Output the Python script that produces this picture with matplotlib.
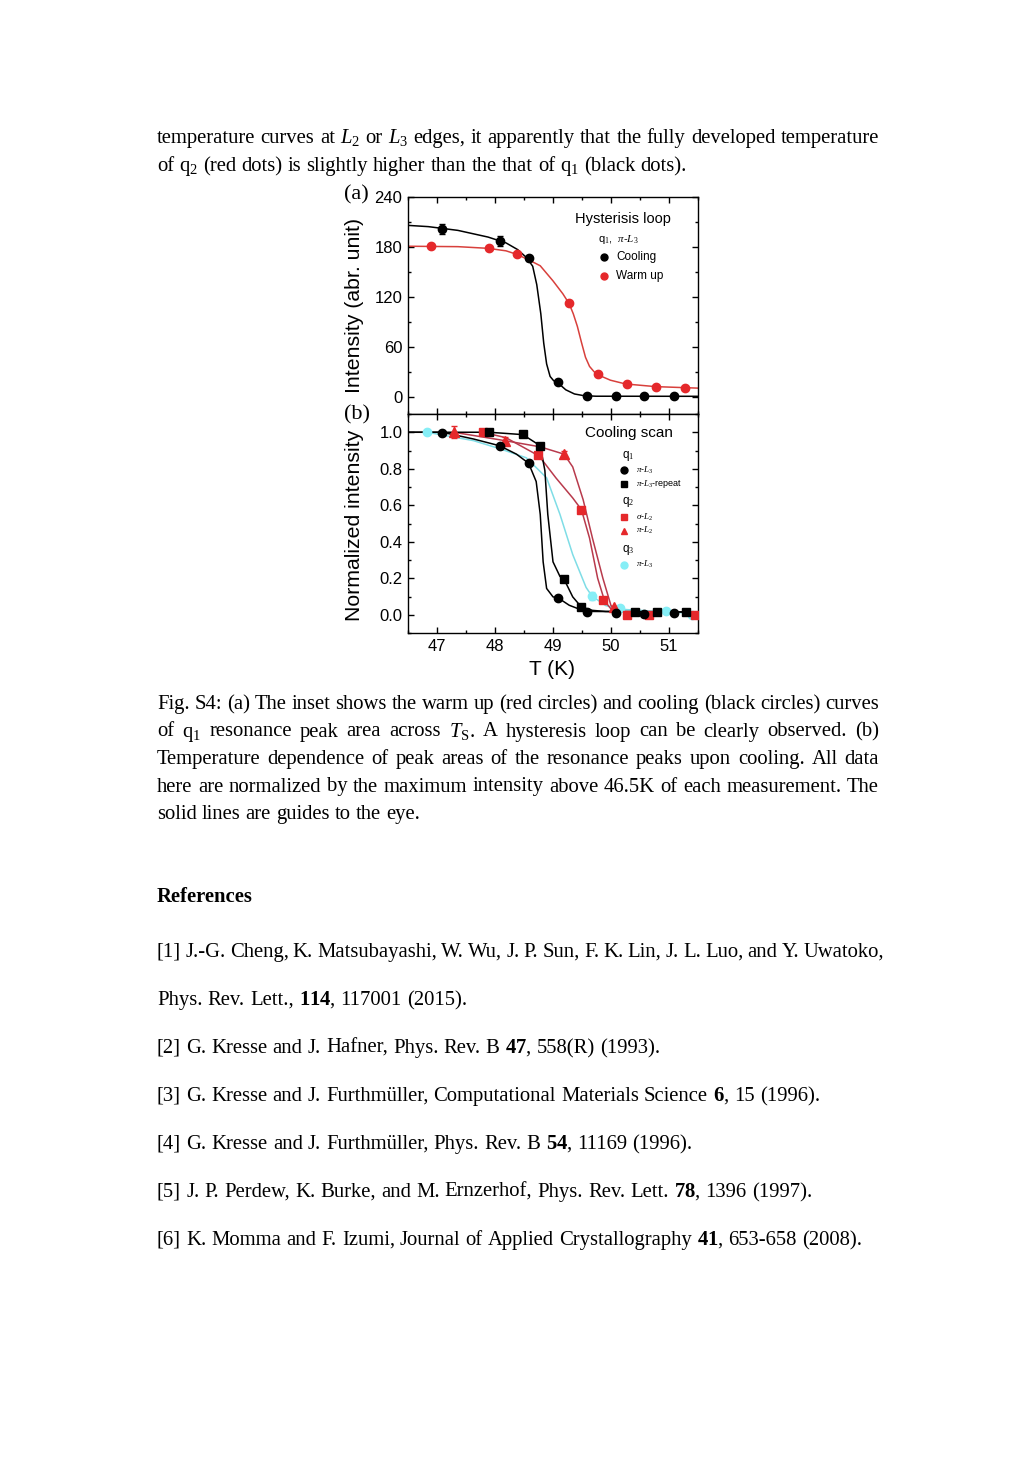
import numpy as np
import matplotlib.pyplot as plt
from matplotlib.ticker import MultipleLocator, FormatStrFormatter

W, H = 1036, 1465

plt.rcParams['font.family'] = 'Liberation Sans'
plt.rcParams['mathtext.fontset'] = 'custom'
plt.rcParams['mathtext.rm'] = 'Liberation Serif'
plt.rcParams['mathtext.it'] = 'Liberation Serif:italic'
plt.rcParams['mathtext.bf'] = 'Liberation Serif:bold'

# ---- data, panel (a): hysteresis loop, q1 pi-L3 ----
T_cool = [47.08, 48.08, 48.58, 49.09, 49.58, 50.08, 50.57, 51.08]
I_cool = [201.8, 187.0, 166.8, 18.9, 2.0, 1.6, 1.2, 1.2]
E_cool = [6, 6, 3, 2, 1, 1, 1, 1]
T_warm = [46.89, 47.90, 48.38, 49.28, 49.77, 50.27, 50.77, 51.27]
I_warm = [181.7, 178.5, 171.7, 112.6, 27.7, 16.1, 12.5, 11.3]

# guide-to-the-eye lines
Tg_cool = [46.5, 46.85, 47.36, 47.88, 48.19, 48.39, 48.55, 48.65, 48.72, 48.79, 48.84,
           48.89, 48.95, 49.01, 49.09, 49.22, 49.37, 49.53, 49.74, 51.5]
Ig_cool = [206, 204.5, 200, 192, 185, 177, 167, 157, 135, 100, 65,
           40, 25, 20, 17, 9, 4, 2, 1.3, 1.2]
Tg_warm = [46.5, 47.36, 47.88, 48.19, 48.39, 48.60, 48.78, 49.00, 49.17, 49.28, 49.35,
           49.42, 49.49, 49.56, 49.63, 49.71, 49.77, 49.84, 49.99, 50.25, 50.77, 51.5]
Ig_warm = [181, 180.5, 178.5, 175.5, 171, 164, 157.6, 139.5, 124, 112, 100,
           85, 66, 48, 37, 30.5, 27.7, 25, 20.5, 16, 12.8, 11]

# ---- data, panel (b): cooling scan, normalized ----
T_q1_pi = [47.08, 48.08, 48.58, 49.09, 49.58, 50.08, 50.57, 51.09]
N_q1_pi = [0.996, 0.926, 0.834, 0.092, 0.015, 0.011, 0.005, 0.009]
T_q1_rep = [47.89, 48.49, 48.78, 49.19, 49.49, 50.41, 50.80, 51.29]
N_q1_rep = [1.0, 0.99, 0.926, 0.195, 0.042, 0.014, 0.014, 0.014]
T_q2_sig = [47.79, 48.74, 49.49, 49.86, 50.28, 50.66, 51.45]
N_q2_sig = [1.0, 0.875, 0.576, 0.079, -0.004, -0.004, -0.004]
T_q2_pi = [47.29, 48.17, 49.19, 50.06]
N_q2_pi = [1.0, 0.954, 0.88, 0.04]
E_q2_pi = [0.033, 0.02, 0.02, 0.01]
T_q3_pi = [46.83, 49.67, 50.15, 50.94, 51.39]
N_q3_pi = [1.0, 0.103, 0.035, 0.018, 0.0]
E_q3_pi = [0.0, 0.02, 0.0, 0.0, 0.0]

Tg_q1_pi = [46.5, 47.09, 47.63, 48.08, 48.37, 48.58, 48.71, 48.78, 48.83, 48.89,
            49.00, 49.09, 49.28, 49.46, 49.68, 51.5]
Ng_q1_pi = [1.0, 1.0, 0.963, 0.926, 0.88, 0.83, 0.73, 0.55, 0.29, 0.144,
            0.098, 0.092, 0.052, 0.03, 0.018, 0.015]
Tg_q1_rep = [46.5, 47.90, 48.48, 48.78, 48.86, 48.91, 49.00, 49.12, 49.19, 49.34,
             49.49, 49.68, 49.91, 51.5]
Ng_q1_rep = [1.0, 1.0, 0.987, 0.926, 0.79, 0.55, 0.29, 0.21, 0.195, 0.098,
             0.042, 0.024, 0.018, 0.015]
Tg_q2_sig = [47.79, 48.19, 48.76, 49.05, 49.34, 49.49, 49.63, 49.77, 49.89, 50.02]
Ng_q2_sig = [1.0, 0.97, 0.87, 0.75, 0.64, 0.576, 0.42, 0.2, 0.075, 0.024]
Tg_q2_pi = [47.29, 48.17, 48.78, 49.19, 49.34, 49.52, 49.68, 49.86, 50.00, 50.09]
Ng_q2_pi = [1.0, 0.954, 0.92, 0.88, 0.81, 0.63, 0.42, 0.2, 0.05, 0.03]
Tg_q3 = [46.83, 47.63, 48.08, 48.54, 48.89, 49.12, 49.34, 49.57, 49.67, 49.91, 50.17, 51.5]
Ng_q3 = [1.0, 0.954, 0.91, 0.86, 0.75, 0.55, 0.33, 0.15, 0.103, 0.05, 0.03, 0.006]

BLACK = 'black'
RED = '#e5282b'
RED_LINE = '#b83a4c'
CYAN = '#86eef6'
CYAN_LINE = '#7fdde6'

fig = plt.figure(figsize=(W / 100, H / 100), dpi=100)


def px(x, y):
    return x / W, 1 - y / H


axa = fig.add_axes([408 / W, 1 - 414 / H, 290 / W, 217 / H])
axb = fig.add_axes([408 / W, 1 - 633 / H, 290 / W, 219 / H], sharex=axa)

# panel (a)
axa.plot(Tg_cool, Ig_cool, color=BLACK, lw=1.1, zorder=2)
axa.plot(Tg_warm, Ig_warm, color='#d8403c', lw=1.1, zorder=2)
axa.errorbar(T_warm, I_warm, fmt='o', color=RED, ms=6, zorder=3)
axa.errorbar(T_cool, I_cool, yerr=E_cool, fmt='o', color=BLACK, ms=6,
             elinewidth=1, capsize=2.5, zorder=4)
axa.set_ylim(-20, 240)
axa.yaxis.set_major_locator(MultipleLocator(60))
axa.yaxis.set_minor_locator(MultipleLocator(30))
axa.set_ylabel('Intensity (abr. unit)', fontsize=15.3)
axa.yaxis.set_label_coords(-0.152, 0.5)
axa.tick_params(labelbottom=False)

# panel (b)
axb.plot(Tg_q3, Ng_q3, color=CYAN_LINE, lw=1.1, zorder=2)
axb.plot(Tg_q2_sig, Ng_q2_sig, color=RED_LINE, lw=1.1, zorder=2)
axb.plot(Tg_q2_pi, Ng_q2_pi, color=RED_LINE, lw=1.1, zorder=2)
axb.plot(Tg_q1_pi, Ng_q1_pi, color=BLACK, lw=1.1, zorder=2)
axb.plot(Tg_q1_rep, Ng_q1_rep, color=BLACK, lw=1.1, zorder=2)
axb.errorbar(T_q3_pi, N_q3_pi, yerr=E_q3_pi, fmt='o', color=CYAN, ms=6,
             elinewidth=1, capsize=2.5, zorder=3)
axb.errorbar(T_q2_sig, N_q2_sig, fmt='s', color=RED, ms=5.5, zorder=3)
axb.errorbar(T_q2_pi, N_q2_pi, yerr=E_q2_pi, fmt='^', color=RED, ms=6.5,
             elinewidth=1, capsize=2.5, zorder=3)
axb.errorbar(T_q1_rep, N_q1_rep, fmt='s', color=BLACK, ms=5.5, zorder=4)
axb.errorbar(T_q1_pi, N_q1_pi, fmt='o', color=BLACK, ms=6, zorder=4)
axb.set_ylim(-0.1, 1.1)
axb.set_xlim(46.5, 51.5)
axb.yaxis.set_major_locator(MultipleLocator(0.2))
axb.yaxis.set_minor_locator(MultipleLocator(0.1))
axb.yaxis.set_major_formatter(FormatStrFormatter('%.1f'))
axb.xaxis.set_major_locator(MultipleLocator(1))
axb.xaxis.set_minor_locator(MultipleLocator(0.5))
axb.set_ylabel('Normalized intensity', fontsize=15.3)
axb.yaxis.set_label_coords(-0.152, 0.49)
axb.set_xlabel('T (K)', fontsize=15)
axb.xaxis.set_label_coords(0.497, -0.124)

for ax in (axa, axb):
    for s in ax.spines.values():
        s.set_linewidth(1.0)
    ax.tick_params(which='both', direction='in', top=True, right=True,
                   labelsize=12, width=1.0, pad=4)
    ax.tick_params(which='major', length=4.5)
    ax.tick_params(which='minor', length=2.5)

# legend (a)
axa.text(0.741, 0.899, 'Hysterisis loop', transform=axa.transAxes,
         ha='center', va='center', fontsize=10.5)
axa.text(0.655, 0.806, r'q$_1$,  $\pi$-$L_3$', transform=axa.transAxes,
         ha='left', va='center', fontsize=8)
for yy, col, lab in [(0.724, BLACK, 'Cooling'), (0.636, RED, 'Warm up')]:
    axa.plot([0.676], [yy], 'o', color=col, ms=5, transform=axa.transAxes)
    axa.text(0.717, yy, lab, transform=axa.transAxes, ha='left', va='center',
             fontsize=8.5)

# legend (b)
axb.text(0.762, 0.913, 'Cooling scan', transform=axb.transAxes,
         ha='center', va='center', fontsize=11)
for yy, lab in [(0.807, 'q$_1$'), (0.596, 'q$_2$'), (0.381, 'q$_3$')]:
    axb.text(0.738, yy, lab, transform=axb.transAxes, ha='left', va='center',
             fontsize=8.5)
for yy, mk, col, lab in [(0.743, 'o', BLACK, r'$\pi$-$L_3$'),
                         (0.681, 's', BLACK, r'$\pi$-$L_3$-repeat'),
                         (0.528, 's', RED, r'$\sigma$-$L_2$'),
                         (0.468, '^', RED, r'$\pi$-$L_2$'),
                         (0.312, 'o', CYAN, r'$\pi$-$L_3$')]:
    axb.plot([0.745], [yy], mk, color=col, ms=5, transform=axb.transAxes)
    axb.text(0.786, yy, lab, transform=axb.transAxes, ha='left', va='center',
             fontsize=6.5)

fig.text(*px(356, 195), '(a)', family='Liberation Serif', fontsize=16,
         ha='center', va='center')
fig.text(*px(357, 415), '(b)', family='Liberation Serif', fontsize=16,
         ha='center', va='center')

# ---- page text ----
SERIF = 'Liberation Serif'
r = fig.canvas.get_renderer()
probe = fig.text(0, 0, '[2] G. Kresse and J. Hafner, Phys. Rev. B $\\mathbf{47}$, 558(R) (1993).',
                 family=SERIF, fontsize=14)
FS = 14 * 507 / probe.get_window_extent(r).width
probe.remove()
sp = fig.text(0, 0, 'a a', family=SERIF, fontsize=FS)
sp2 = fig.text(0, 0, 'aa', family=SERIF, fontsize=FS)
SPACE = sp.get_window_extent(r).width - sp2.get_window_extent(r).width
sp.remove()
sp2.remove()


def put_line(line, ybase, x0=157, x1=None, weight='normal'):
    words = line.split(' ')
    objs = [fig.text(0, 0, w, family=SERIF, fontsize=FS, weight=weight,
                     va='baseline', ha='left') for w in words]
    widths = [o.get_window_extent(r).width for o in objs]
    if x1 is None or len(words) < 2:
        gap = SPACE
    else:
        gap = (x1 - x0 - sum(widths)) / (len(words) - 1)
    x = x0
    for o, w in zip(objs, widths):
        o.set_position(px(x, ybase))
        x += w + gap


put_line('temperature curves at $L_2$ or $L_3$ edges, it apparently that the fully developed temperature',
         143, x1=879)
put_line('of q$_2$ (red dots) is slightly higher than the that of q$_1$ (black dots).', 171)

caption = [
    ('Fig. S4: (a) The inset shows the warm up (red circles) and cooling (black circles) curves', True),
    ('of q$_1$ resonance peak area across $T_\\mathrm{S}$. A hysteresis loop can be clearly observed. (b)', True),
    ('Temperature dependence of peak areas of the resonance peaks upon cooling. All data', True),
    ('here are normalized by the maximum intensity above 46.5K of each measurement. The', True),
    ('solid lines are guides to the eye.', False),
]
for i, (line, just) in enumerate(caption):
    put_line(line, 709 + 27.5 * i, x1=879 if just else None)

put_line('References', 902, weight='bold')

refs = [
    ('[1] J.-G. Cheng, K. Matsubayashi, W. Wu, J. P. Sun, F. K. Lin, J. L. Luo, and Y. Uwatoko,', 884),
    ('Phys. Rev. Lett., $\\mathbf{114}$, 117001 (2015).', None),
    ('[2] G. Kresse and J. Hafner, Phys. Rev. B $\\mathbf{47}$, 558(R) (1993).', None),
    ('[3] G. Kresse and J. Furthmüller, Computational Materials Science $\\mathbf{6}$, 15 (1996).', None),
    ('[4] G. Kresse and J. Furthmüller, Phys. Rev. B $\\mathbf{54}$, 11169 (1996).', None),
    ('[5] J. P. Perdew, K. Burke, and M. Ernzerhof, Phys. Rev. Lett. $\\mathbf{78}$, 1396 (1997).', None),
    ('[6] K. Momma and F. Izumi, Journal of Applied Crystallography $\\mathbf{41}$, 653-658 (2008).', None),
]
for i, (line, x1) in enumerate(refs):
    put_line(line, 957 + 48 * i, x1=x1)

fig.savefig('out.png', dpi=100, facecolor='white')
